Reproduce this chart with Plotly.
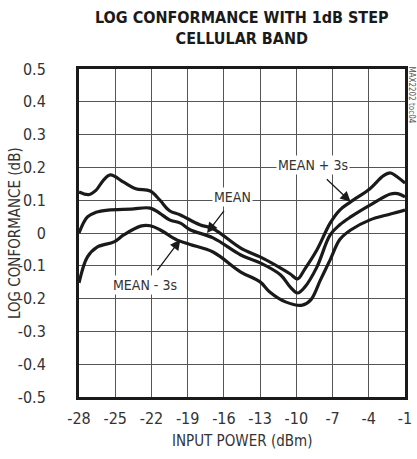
import plotly.graph_objects as go

# Data
x_plus = [-28.0, -27.2, -26.6, -26.0, -25.4, -24.3, -23.3, -22.1, -21.3, -20.5, -19.6, -18.0, -16.9,
          -14.6, -13.0, -11.3, -10.5, -9.9, -9.3, -8.3, -7.2, -6.4, -5.5, -3.9, -2.8, -2.2, -1.6, -1.0]
y_plus = [0.125, 0.117, 0.13, 0.16, 0.177, 0.155, 0.135, 0.128, 0.10, 0.068, 0.055, 0.025, 0.013,
          -0.046, -0.073, -0.107, -0.125, -0.14, -0.11, -0.052, 0.03, 0.07, 0.095, 0.135, 0.174, 0.183, 0.17, 0.152]

x_mean = [-28.0, -27.3, -26.6, -25.6, -23.7, -22.1, -21.3, -20.5, -19.6, -18.8, -16.9, -14.6, -13.0,
          -11.3, -10.5, -9.9, -9.3, -8.3, -7.2, -6.4, -5.5, -3.9, -2.2, -1.6, -1.0]
y_mean = [0.0, 0.049, 0.063, 0.07, 0.073, 0.076, 0.06, 0.04, 0.03, 0.01, -0.015, -0.067, -0.091,
          -0.128, -0.165, -0.183, -0.165, -0.104, -0.006, 0.025, 0.049, 0.085, 0.119, 0.12, 0.11]

x_minus = [-28.0, -27.3, -26.5, -25.1, -24.3, -22.9, -22.1, -21.3, -19.9, -18.8, -16.9, -14.6, -13.0,
           -12.2, -10.9, -9.5, -8.8, -8.0, -7.2, -6.4, -5.5, -3.9, -2.2, -1.0]
y_minus = [-0.152, -0.073, -0.043, -0.027, -0.006, 0.021, 0.022, 0.01, -0.021, -0.035, -0.058, -0.119, -0.149,
           -0.18, -0.21, -0.22, -0.204, -0.143, -0.082, -0.02, 0.009, 0.04, 0.058, 0.07]

x_ticks = [-28, -25, -22, -19, -16, -13, -10, -7, -4, -1]
x_tick_text = ["-28", "-25", "-22", "-19", "-16", "-13", "-10", "-7", "-4", "-1"]
y_ticks = [0.5, 0.4, 0.3, 0.2, 0.1, 0, -0.1, -0.2, -0.3, -0.4, -0.5]
y_tick_text = ["0.5", "0.4", "0.3", "0.2", "0.1", "0", "-0.1", "-0.2", "-0.3", "-0.4", "-0.5"]

FONT = "DejaVu Sans Condensed, Liberation Sans Narrow, Arial Narrow, sans-serif"
TXT = "#333333"

fig = go.Figure()
for xs, ys in [(x_plus, y_plus), (x_mean, y_mean), (x_minus, y_minus)]:
    fig.add_trace(go.Scatter(x=xs, y=ys, mode="lines",
                             line=dict(color="#1a1a1a", width=3.2, shape="spline", smoothing=1.0),
                             showlegend=False, hoverinfo="skip"))

labels = [
    dict(text="MEAN + 3s", x=-8.6, y=0.207, ax=-7.6, ay=0.168, tx=-5.5, ty=0.095),
    dict(text="MEAN", x=-15.3, y=0.11, ax=-15.9, ay=0.072, tx=-17.4, ty=0.0),
    dict(text="MEAN - 3s", x=-22.5, y=-0.16, ax=-21.6, ay=-0.118, tx=-19.6, ty=-0.02),
]
for lb in labels:
    fig.add_annotation(x=lb["tx"], y=lb["ty"], ax=lb["ax"], ay=lb["ay"],
                       xref="x", yref="y", axref="x", ayref="y",
                       text="", showarrow=True, arrowhead=2, arrowsize=1.6,
                       arrowwidth=1.3, arrowcolor="#1a1a1a")
    fig.add_annotation(x=lb["x"], y=lb["y"], xref="x", yref="y", text=lb["text"],
                       showarrow=False, bgcolor="white", borderpad=1,
                       font=dict(family=FONT, size=14, color=TXT))

# Title
fig.add_annotation(x=0.5, y=1.124, xref="paper", yref="paper", xanchor="center", yanchor="middle",
                   text="<b>LOG CONFORMANCE WITH 1dB STEP<br>CELLULAR BAND</b>", showarrow=False,
                   font=dict(family=FONT, size=16, color="#1a1a1a"))
# Axis titles
fig.add_annotation(x=-0.196, y=0.5, xref="paper", yref="paper", xanchor="center", yanchor="middle",
                   text="LOG CONFORMANCE (dB)", textangle=-90, showarrow=False,
                   font=dict(family=FONT, size=15, color=TXT))
fig.add_annotation(x=0.5, y=-0.134, xref="paper", yref="paper", xanchor="center", yanchor="middle",
                   text="INPUT POWER (dBm)", showarrow=False,
                   font=dict(family=FONT, size=15, color=TXT))
# Side code
fig.add_annotation(x=1.021, y=0.92, xref="paper", yref="paper", xanchor="center", yanchor="middle",
                   text="MAX2202 toc04", textangle=90, showarrow=False,
                   font=dict(family=FONT, size=8, color="#555555"))

fig.update_layout(
    width=417, height=459,
    margin=dict(l=79, r=12, t=69, b=62),
    paper_bgcolor="white", plot_bgcolor="white",
    font=dict(family=FONT, size=15, color=TXT),
)
fig.update_xaxes(range=[-28, -1], tickvals=x_ticks, ticktext=x_tick_text,
                 ticks="outside", ticklen=5, tickcolor="rgba(0,0,0,0)", showgrid=True,
                 gridcolor="#555555", gridwidth=1, zeroline=False, automargin=False,
                 showline=True, linecolor="#1a1a1a", linewidth=3, mirror=True,
                 tickfont=dict(family=FONT, size=16, color=TXT))
fig.update_yaxes(range=[-0.5, 0.5], tickvals=y_ticks, ticktext=y_tick_text,
                 ticks="outside", ticklen=27, tickcolor="rgba(0,0,0,0)", showgrid=True,
                 gridcolor="#555555", gridwidth=1, zeroline=False, automargin=False,
                 showline=True, linecolor="#1a1a1a", linewidth=3, mirror=True,
                 tickfont=dict(family=FONT, size=16, color=TXT))

fig.write_html("out.html", config={"displayModeBar": False},
               post_script="document.body.style.margin='0';document.body.style.padding='0';")
